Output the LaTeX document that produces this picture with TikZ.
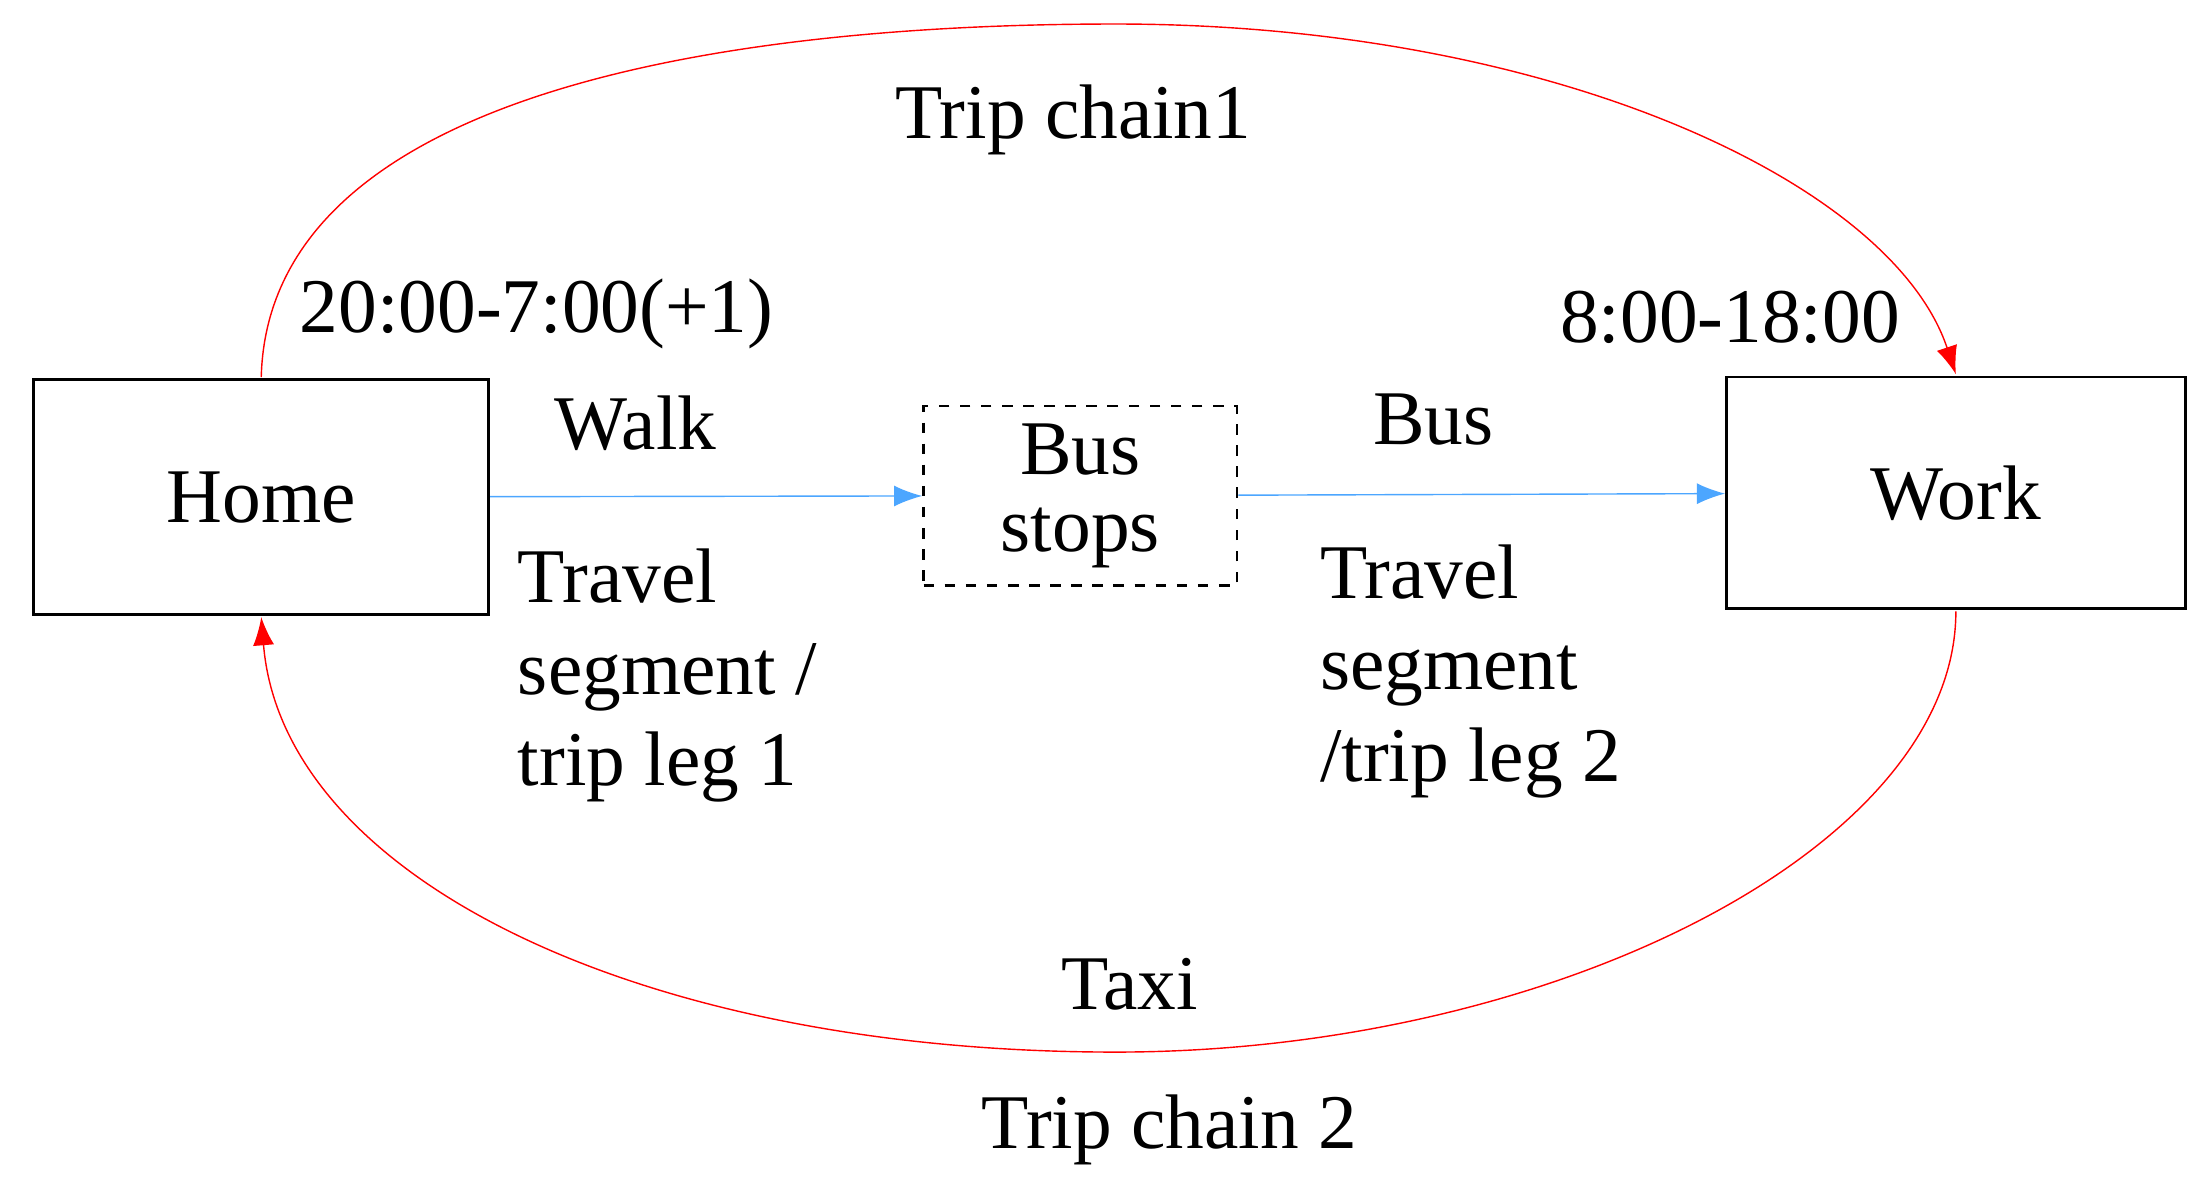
\documentclass[tikz,border=0pt]{standalone}
\usepackage{fontspec}
\setmainfont{Liberation Serif}
\usetikzlibrary{arrows.meta}
\begin{document}
\begin{tikzpicture}[x=0.01412cm, y=-0.01412cm,
	lbl/.style={font=\fontsize{22}{26}\selectfont},
	seg/.style={lbl, align=left, anchor=north west},
	leg/.style={draw=blue!50!cyan!70!white, -{Latex[length=8pt,width=6pt]}},
	chain/.style={draw=red, -{Latex[length=8pt,width=6pt]}}]
		\useasboundingbox (0,0) rectangle (1560,846);
		\node[draw, thick, minimum width=322*0.01412cm, minimum height=166*0.01412cm, lbl] (home) at (185,352) {Home};
		\node[draw, thick, dashed, minimum width=222*0.01412cm, minimum height=127*0.01412cm, lbl, align=center] (bus) at (765,351) {Bus\\[-4pt]stops};
		\node[draw, thick, minimum width=325*0.01412cm, minimum height=164*0.01412cm, lbl] (work) at (1385,349) {Work};
		
		\node[lbl] (chain1) at (760,85) {Trip chain1};
		\node[lbl] (t1) at (380,222) {20:00-7:00(+1)};
		\node[lbl] (t2) at (1225,225) {8:00-18:00};
		\node[lbl] (walk) at (450,300) {Walk};
		\node[lbl] (bustxt) at (1015,297) {Bus};
		\node[seg] (leg1) at (358,380) {Travel\\segment /\\trip leg 1};
		\node[seg] (leg2) at (926,377) {Travel\\segment\\/trip leg 2};
		\node[lbl] (taxi) at (800,697) {Taxi};
		\node[lbl] (chain2) at (828,800) {Trip chain 2};
		
		\coordinate (htop) at (185,267);
		\coordinate (hbot) at (185,437);
		\coordinate (wtop) at (1385,265);
		\coordinate (wbot) at (1385,433);
		
		\draw[leg] (home) -- (bus);
		\draw[leg] (bus) -- (work);
		\draw[chain] (htop) .. controls (190,70) and (500,17) .. (790,17) .. controls (1100,17) and (1340,130) .. (wtop);
		\draw[chain] (wbot) .. controls (1385,600) and (1100,745) .. (790,745) .. controls (450,745) and (200,620) .. (hbot);
\end{tikzpicture}
\end{document}
